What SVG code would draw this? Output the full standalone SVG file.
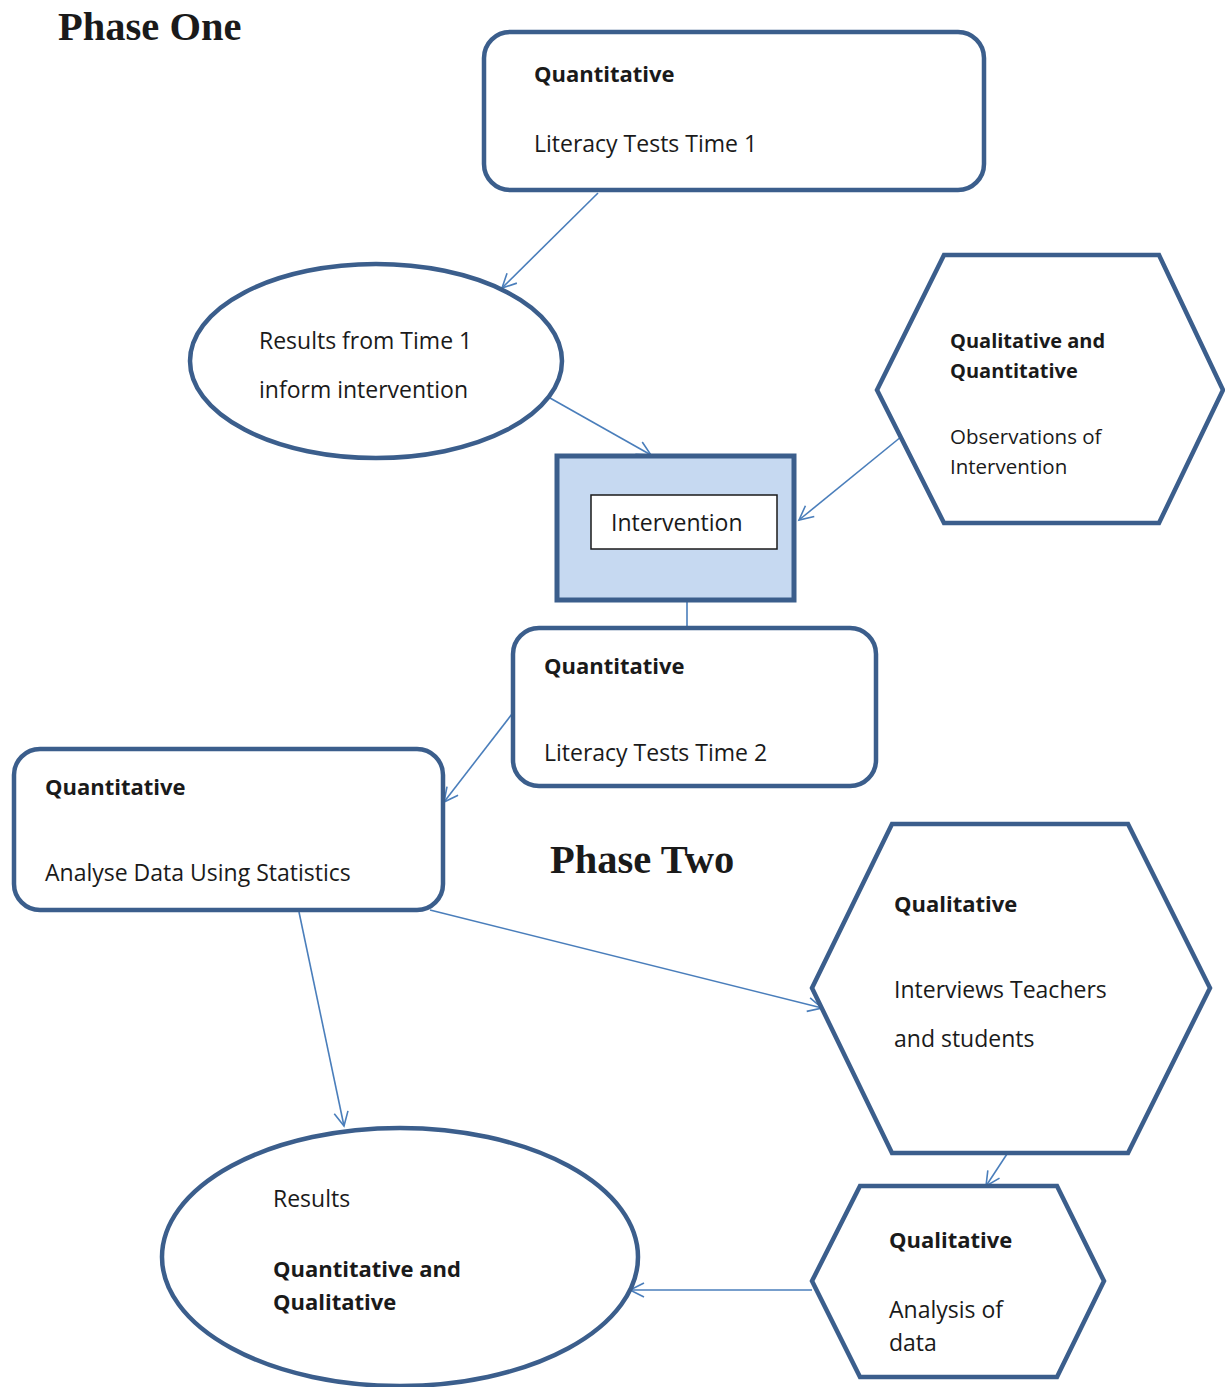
<svg xmlns="http://www.w3.org/2000/svg" width="1225" height="1387" viewBox="0 0 1225 1387">
<defs>
<marker id="arr" markerUnits="userSpaceOnUse" markerWidth="18" markerHeight="18" refX="15" refY="8" orient="auto">
<path d="M1,1 L15,8 L1,15" fill="none" stroke="#4a7ebb" stroke-width="1.6"/>
</marker>
<style>
.shape{fill:#fff;stroke:#3b5e8c;stroke-width:4.5}
.conn{stroke:#4a7ebb;stroke-width:1.6;fill:none}
.t{font-family:"Open Sans","Liberation Sans",sans-serif;font-size:23px;fill:#1a1a1a}
.b{font-weight:bold;font-size:22px}
.s{font-size:20.5px}
.sb{font-size:20px}
.ph{font-family:"Liberation Serif",serif;font-weight:bold;font-size:40.5px;fill:#1a1a1a}
</style>
</defs>
<rect width="1225" height="1387" fill="#fff"/>
<text class="ph" x="58" y="40">Phase One</text>
<text class="ph" x="550" y="873">Phase Two</text>
<g id="connectors">
<line class="conn" x1="598" y1="193" x2="502" y2="288" marker-end="url(#arr)"/>
<line class="conn" x1="550" y1="398" x2="651" y2="455" marker-end="url(#arr)"/>
<line class="conn" x1="907" y1="432" x2="799" y2="520" marker-end="url(#arr)"/>
<line class="conn" x1="687" y1="600" x2="687" y2="628"/>
<line class="conn" x1="512" y1="714" x2="444" y2="802" marker-end="url(#arr)"/>
<line class="conn" x1="430" y1="910" x2="822" y2="1008" marker-end="url(#arr)"/>
<line class="conn" x1="299" y1="912" x2="344" y2="1126" marker-end="url(#arr)"/>
<line class="conn" x1="1007" y1="1154" x2="986" y2="1186" marker-end="url(#arr)"/>
<line class="conn" x1="812" y1="1290" x2="630" y2="1290" marker-end="url(#arr)"/>
</g>
<g id="quant1">
<rect class="shape" x="484" y="32" width="500" height="158" rx="26"/>
<text class="t b" x="534" y="82">Quantitative</text>
<text class="t" x="534" y="152">Literacy Tests Time 1</text>
</g>
<g id="results1">
<ellipse class="shape" cx="376" cy="361" rx="186" ry="97"/>
<text class="t" x="259" y="349">Results from Time 1</text>
<text class="t" x="259" y="398">inform intervention</text>
</g>
<g id="intervention">
<rect x="557" y="456" width="237" height="144" fill="#c6d9f1" stroke="#3b5e8c" stroke-width="5"/>
<rect x="591" y="495" width="186" height="54" fill="#fff" stroke="#1a1a1a" stroke-width="1.5"/>
<text class="t" x="611" y="531">Intervention</text>
</g>
<g id="observations">
<polygon class="shape" points="944,255 1159,255 1223,390 1159,523 944,523 877,390"/>
<text class="t b sb" x="950" y="348">Qualitative and</text>
<text class="t b sb" x="950" y="378">Quantitative</text>
<text class="t s" x="950" y="444">Observations of</text>
<text class="t s" x="950" y="474">Intervention</text>
</g>
<g id="quant2">
<rect class="shape" x="513" y="628" width="363" height="158" rx="26"/>
<text class="t b" x="544" y="674">Quantitative</text>
<text class="t" x="544" y="761">Literacy Tests Time 2</text>
</g>
<g id="quant3">
<rect class="shape" x="14" y="749" width="429" height="161" rx="26"/>
<text class="t b" x="45" y="795">Quantitative</text>
<text class="t" x="45" y="881">Analyse Data Using Statistics</text>
</g>
<g id="interviews">
<polygon class="shape" points="892,824 1128,824 1210,988 1128,1153 892,1153 812,988"/>
<text class="t b" x="894" y="912">Qualitative</text>
<text class="t" x="894" y="998">Interviews Teachers</text>
<text class="t" x="894" y="1047">and students</text>
</g>
<g id="analysis">
<polygon class="shape" points="860,1186 1057,1186 1104,1281 1057,1377 860,1377 812,1281"/>
<text class="t b" x="889" y="1248">Qualitative</text>
<text class="t" x="889" y="1318">Analysis of</text>
<text class="t" x="889" y="1351">data</text>
</g>
<g id="results2">
<ellipse class="shape" cx="400" cy="1257" rx="238" ry="129"/>
<text class="t" x="273" y="1207">Results</text>
<text class="t b" x="273" y="1277">Quantitative and</text>
<text class="t b" x="273" y="1310">Qualitative</text>
</g>
</svg>
